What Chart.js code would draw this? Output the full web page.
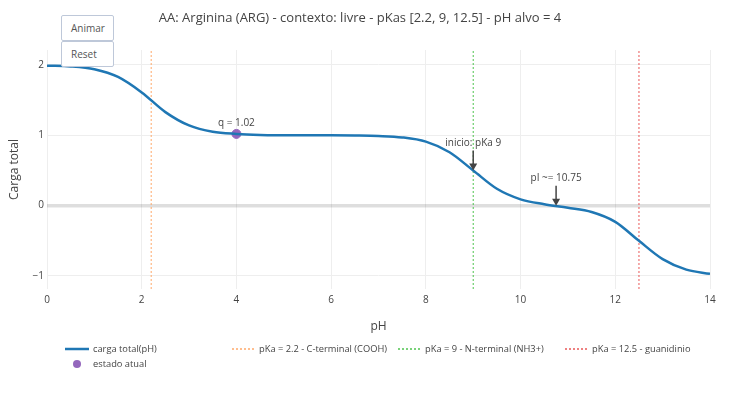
<!DOCTYPE html>
<html>
<head>
<meta charset="utf-8">
<script src="https://cdn.jsdelivr.net/npm/chart.js@4"></script>
<style>
  body { margin: 0; background: #fff; }
  #wrap { position: relative; width: 742px; height: 394px; }
  .btn {
    position: absolute; left: 61px; width: 53px; height: 26px;
    border: 1px solid #bec8d9; border-radius: 2px; background: #fff;
    font: 10px "Open Sans", sans-serif; color: #555;
    box-sizing: border-box; padding-left: 9px; line-height: 24px;
  }
</style>
</head>
<body>
<div id="wrap">
  <canvas id="chart" width="742" height="394"></canvas>
  <div class="btn" style="top:15px">Animar</div>
  <div class="btn" style="top:41px">Reset</div>
</div>
<script>
// pH values and total charge
const phValues = [0, 0.5, 1, 1.5, 2, 2.5, 3, 3.5, 4, 4.5, 5, 5.5, 6, 6.5, 7,
  7.5, 8, 8.5, 9, 9.5, 10, 10.5, 11, 11.5, 12, 12.5, 13, 13.5, 14];
const chargeValues = [1.99, 1.98, 1.94, 1.83, 1.61, 1.33, 1.14, 1.05, 1.02, 1.006, 1.002, 1.0, 1.0, 0.997, 0.99,
  0.97, 0.91, 0.76, 0.50, 0.24, 0.09, 0.02, -0.03, -0.09, -0.23, -0.50, -0.76, -0.91, -0.97];

const pkaValues = [2.2, 9, 12.5];
const pkaLabels = ['pKa = 2.2 - C-terminal (COOH)', 'pKa = 9 - N-terminal (NH3+)', 'pKa = 12.5 - guanidinio'];
const pkaColors = ['rgba(255,160,90,0.9)', 'rgba(60,190,60,0.9)', 'rgba(230,70,70,0.9)'];

const targetPh = 4;
const targetCharge = 1.02;

const notes = [
  { x: 9, y: 0.5, text: 'inicio: pKa 9' },
  { x: 10.75, y: 0, text: 'pI ~= 10.75' }
];

const yTicks = [-1, 0, 1, 2];
const yMin = -1.185, yMax = 2.213;

const FONT = '"Open Sans", sans-serif';

const datasets = [{
  label: 'carga total(pH)',
  data: phValues.map((p, i) => ({ x: p, y: chargeValues[i] })),
  borderColor: '#1f77b4',
  borderWidth: 2.5,
  pointRadius: 0,
  cubicInterpolationMode: 'monotone'
}];
pkaValues.forEach((p, i) => {
  datasets.push({
    label: pkaLabels[i],
    data: [{ x: p, y: yMin }, { x: p, y: yMax }],
    borderColor: pkaColors[i],
    borderWidth: 1,
    borderDash: [2, 2],
    pointRadius: 0
  });
});
datasets.push({
  label: 'estado atual',
  data: [{ x: targetPh, y: targetCharge }],
  showLine: false,
  pointRadius: 4.5,
  pointBackgroundColor: '#9467bd',
  pointBorderColor: '#9467bd'
});

function arrow(ctx, x, y1, y2) {
  ctx.strokeStyle = '#444';
  ctx.fillStyle = '#444';
  ctx.lineWidth = 1.5;
  ctx.beginPath();
  ctx.moveTo(x, y1);
  ctx.lineTo(x, y2 - 5);
  ctx.stroke();
  ctx.beginPath();
  ctx.moveTo(x, y2);
  ctx.lineTo(x - 4, y2 - 7);
  ctx.lineTo(x + 4, y2 - 7);
  ctx.closePath();
  ctx.fill();
}

const decor = {
  id: 'decor',
  afterDraw(chart) {
    const ctx = chart.ctx;
    const xs = chart.scales.x, ys = chart.scales.y;
    const area = chart.chartArea;
    ctx.save();
    ctx.fillStyle = '#444';
    ctx.textBaseline = 'middle';

    // title
    ctx.font = '13px ' + FONT;
    ctx.textAlign = 'center';
    ctx.fillText('AA: Arginina (ARG) - contexto: livre - pKas [2.2, 9, 12.5] - pH alvo = 4', 360, 18);

    // axis titles
    ctx.font = '12px ' + FONT;
    ctx.fillText('pH', (area.left + area.right) / 2, 327);
    ctx.save();
    ctx.translate(15, (area.top + area.bottom) / 2);
    ctx.rotate(-Math.PI / 2);
    ctx.fillText('Carga total', 0, 0);
    ctx.restore();

    // point label
    ctx.font = '10px ' + FONT;
    ctx.fillStyle = '#444';
    ctx.fillText('q = ' + targetCharge.toFixed(2), xs.getPixelForValue(targetPh), ys.getPixelForValue(targetCharge) - 11);

    // arrow notes
    notes.forEach(n => {
      const px = xs.getPixelForValue(n.x), py = ys.getPixelForValue(n.y);
      ctx.fillStyle = '#444';
      ctx.fillText(n.text, px, py - 27);
      arrow(ctx, px, py - 20, py);
    });

    // legend
    ctx.textAlign = 'left';
    ctx.font = '9.3px ' + FONT;
    const ds = chart.data.datasets;
    const slots = [[65, 349], [232, 349], [398, 349], [565, 349]];
    slots.forEach((s, i) => {
      const d = ds[i];
      ctx.strokeStyle = d.borderColor;
      ctx.lineWidth = i === 0 ? 2.5 : 1.5;
      ctx.setLineDash(d.borderDash || []);
      ctx.beginPath();
      ctx.moveTo(s[0], s[1]);
      ctx.lineTo(s[0] + 24, s[1]);
      ctx.stroke();
      ctx.setLineDash([]);
      ctx.fillStyle = '#444';
      ctx.fillText(d.label, s[0] + (i === 0 ? 28 : 27), s[1]);
    });
    const pd = ds[4];
    ctx.fillStyle = pd.pointBackgroundColor;
    ctx.beginPath();
    ctx.arc(77, 364, 4, 0, Math.PI * 2);
    ctx.fill();
    ctx.fillStyle = '#444';
    ctx.fillText(pd.label, 93, 364);
    ctx.restore();
  }
};

new Chart(document.getElementById('chart'), {
  type: 'line',
  data: { datasets },
  options: {
    responsive: false,
    animation: false,
    layout: { padding: { left: 0, top: 50, right: 32, bottom: 0 } },
    plugins: { legend: { display: false }, tooltip: { enabled: false }, title: { display: false } },
    scales: {
      x: {
        type: 'linear',
        min: 0, max: 14,
        afterFit: s => { s.height = 105; },
        ticks: { stepSize: 2, color: '#444', font: { family: FONT, size: 10 }, padding: 5, maxRotation: 0 },
        grid: { color: '#eee', drawTicks: false },
        border: { display: false }
      },
      y: {
        min: yMin, max: yMax,
        afterFit: s => { s.width = 47; },
        afterBuildTicks: s => { s.ticks = yTicks.map(v => ({ value: v })); },
        ticks: {
          color: '#444', font: { family: FONT, size: 10 }, padding: 3,
          callback: v => v < 0 ? '\u2212' + Math.abs(v) : String(v)
        },
        grid: {
          drawTicks: false,
          color: c => c.tick && c.tick.value === 0 ? 'rgba(0,0,0,0.13)' : '#eee',
          lineWidth: c => c.tick && c.tick.value === 0 ? 3.5 : 1
        },
        border: { display: false }
      }
    }
  },
  plugins: [decor]
});
</script>
</body>
</html>
